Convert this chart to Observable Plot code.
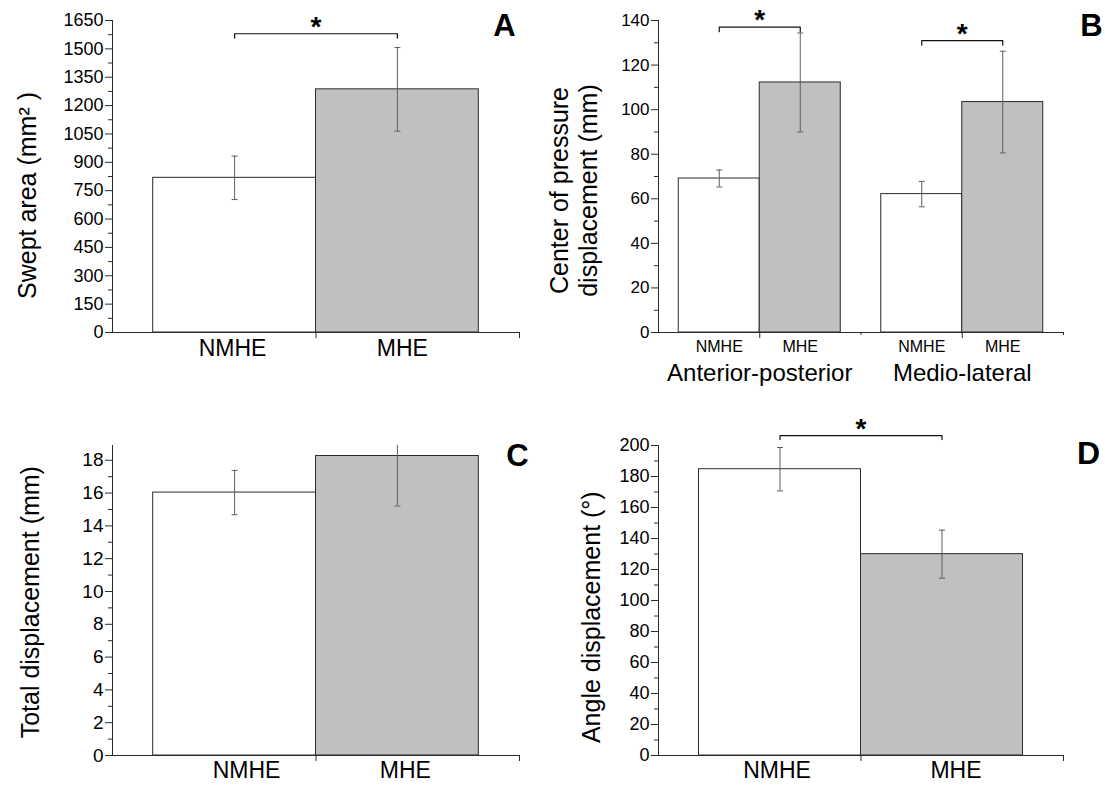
<!DOCTYPE html>
<html>
<head>
<meta charset="utf-8">
<script src="https://cdn.jsdelivr.net/npm/d3@7"></script>
<script src="https://cdn.jsdelivr.net/npm/@observablehq/plot@0.6"></script>
<style>
  body { margin: 0; background: #fff; }
  #fig { position: relative; width: 1105px; height: 785px; background: #fff; overflow: hidden; }
  #fig > svg { position: absolute; overflow: visible; }
</style>
</head>
<body>
<div id="fig"></div>
<script>
// ---------------- data ----------------
const groupNames = ["NMHE", "MHE"];
const sweptArea = [818, 1286];
const sweptAreaSD = [115, 221];

const copDirections = ["Anterior-posterior", "Medio-lateral"];
const copNMHE = [69.1, 62.1];
const copNMHESD = [3.8, 5.7];
const copMHE = [112.2, 103.4];
const copMHESD = [22.2, 22.8];

const totalDisp = [16.03, 18.26];
const totalDispSD = [1.35, 3.05];

const angleDisp = [184.7, 129.9];
const angleDispSD = [14.0, 15.5];

const ticksA = [0, 150, 300, 450, 600, 750, 900, 1050, 1200, 1350, 1500, 1650];
const ticksB = [0, 20, 40, 60, 80, 100, 120, 140];
const ticksC = [0, 2, 4, 6, 8, 10, 12, 14, 16, 18];
const ticksD = [0, 20, 40, 60, 80, 100, 120, 140, 160, 180, 200];

// significance brackets (y in data units)
const sigA = [{from: 0, to: 1, y: 1580}];
const sigB = [{group: 0, y: 137}, {group: 1, y: 131}];
const sigD = [{from: 0, to: 1, y: 206.4}];

// ---------------- style ----------------
const FONT = '"Liberation Sans", Arial, Helvetica, sans-serif';
const AXIS = "#2b2b2b";
const ERR = "#5e5e5e";
const FILLS = ["#ffffff", "#c0c0c0"];
const capSymbol = {
  draw(ctx, size) {
    const r = Math.sqrt(size / Math.PI);
    ctx.moveTo(-r, 0);
    ctx.lineTo(r, 0);
  }
};

function barMarks(bars) {
  return [
    Plot.rectY(bars, {x1: "x1", x2: "x2", y1: 0, y2: "v", fill: "fill", stroke: AXIS, strokeWidth: 1}),
    Plot.ruleX(bars, {x: "xc", y1: d => d.v - d.e, y2: d => d.v + d.e, stroke: ERR, strokeWidth: 1, clip: true}),
    Plot.dot(bars, {x: "xc", y: d => d.v + d.e, symbol: capSymbol, r: 3, fill: "none", stroke: ERR, strokeWidth: 1, clip: true}),
    Plot.dot(bars, {x: "xc", y: d => d.v - d.e, symbol: capSymbol, r: 3, fill: "none", stroke: ERR, strokeWidth: 1, clip: true})
  ];
}

function axisMarks(p) {
  const minor = d3.range(0, p.yDomain[1] + 1e-9, p.minorStep).filter(v => !p.yTicks.includes(v));
  return [
    Plot.ruleX([p.xDomain[0]], {stroke: AXIS, strokeWidth: 1}),
    Plot.ruleY([0], {stroke: AXIS, strokeWidth: 1}),
    Plot.axisY(minor, {tickSize: 4, tickFormat: () => "", stroke: AXIS, label: null}),
    Plot.axisY(p.yTicks, {tickSize: 7, tickPadding: 2, tickFormat: d => String(d), fontSize: p.yFont,
      stroke: AXIS, fill: "#000", fontFamily: FONT, label: null})
  ];
}

function bracketMarks(p, sig, legPx, starSize) {
  const plotH = p.height - p.marginTop - p.marginBottom;
  const leg = legPx * (p.yDomain[1] - p.yDomain[0]) / plotH;
  const pts = sig.flatMap((s, k) => [
    {k, x: s.from, y: s.y - leg}, {k, x: s.from, y: s.y},
    {k, x: s.to, y: s.y}, {k, x: s.to, y: s.y - leg}
  ]);
  return [
    Plot.line(pts, {x: "x", y: "y", z: "k", stroke: "#111", strokeWidth: 1.2}),
    Plot.text(sig, {x: s => (s.from + s.to) / 2, y: "y", text: () => "*", fontSize: starSize,
      fontWeight: "bold", lineAnchor: "bottom", dy: 2, fill: "#000", fontFamily: FONT})
  ];
}

// baselineX and centerY are relative to the panel's own SVG
function yLabel(text, p, baselineX, centerY) {
  const frameCenter = (p.marginTop + p.height - p.marginBottom) / 2;
  return Plot.text([text], {frameAnchor: "left", rotate: -90, lineAnchor: "bottom", textAnchor: "middle",
    lineHeight: 1.16, fontSize: 25, fill: "#000", fontFamily: FONT,
    dx: baselineX - p.marginLeft, dy: centerY - frameCenter});
}

function panelLetter(letter, p, cx, baseline, size) {
  return Plot.text([letter], {frameAnchor: "top-left", textAnchor: "middle", lineAnchor: "bottom",
    fontSize: size, fontWeight: "bold", fill: "#000", fontFamily: FONT,
    dx: cx - p.marginLeft, dy: baseline - p.marginTop});
}

function render(p, marks) {
  const svg = Plot.plot({
    width: p.width, height: p.height,
    marginLeft: p.marginLeft, marginRight: p.marginRight,
    marginTop: p.marginTop, marginBottom: p.marginBottom,
    x: {type: "linear", domain: p.xDomain, axis: null, label: null},
    y: {type: "linear", domain: p.yDomain, axis: null, label: null},
    color: {type: "identity"},
    style: {fontFamily: FONT, color: "#000", background: "transparent", overflow: "visible"},
    marks
  });
  svg.style.left = p.left + "px";
  svg.style.top = p.top + "px";
  document.getElementById("fig").appendChild(svg);
}

// two-bar panel builder (A, C, D)
function twoBarPanel(p, values, sds) {
  const bars = values.map((v, i) => ({x1: i - 0.5, x2: i + 0.5, xc: i, v, e: sds[i], fill: FILLS[i]}));
  return [
    ...barMarks(bars),
    ...axisMarks(p),
    // category labels (one text mark per category so each can be nudged like the original)
    ...bars.map((b, i) => Plot.text([b], {x: "xc", y: 0, text: () => groupNames[i], lineAnchor: "top",
      dy: p.xPad, dx: p.labelDx[i], fontSize: 23, fill: "#000", fontFamily: FONT})),
    Plot.axisX([0.5, p.xDomain[1]], {tickSize: 6, tickFormat: () => "", stroke: AXIS, label: null})
  ];
}

// ---------------- Panel A ----------------
const pA = {left: 0, top: 0, width: 552, height: 392, marginLeft: 112, marginRight: 33, marginTop: 20, marginBottom: 60,
  xDomain: [-0.75, 1.75], yDomain: [0, 1650], yTicks: ticksA, minorStep: 75, yFont: 18, xPad: 7, labelDx: [-2, 5]};
render(pA, [
  ...twoBarPanel(pA, sweptArea, sweptAreaSD),
  ...bracketMarks(pA, sigA, 4.5, 28),
  yLabel("Swept area (mm² )", pA, 35, 195),
  panelLetter("A", pA, 504, 35, 31)
]);

// ---------------- Panel B ----------------
const pB = {left: 552, top: 0, width: 553, height: 400, marginLeft: 106, marginRight: 42, marginTop: 20, marginBottom: 68,
  xDomain: [-0.5, 1.5], yDomain: [0, 140], yTicks: ticksB, minorStep: 10, yFont: 17};
const barsB = [];
copDirections.forEach((name, g) => {
  barsB.push({g, s: 0, x1: g - 0.4, x2: g, xc: g - 0.2, v: copNMHE[g], e: copNMHESD[g], fill: FILLS[0]});
  barsB.push({g, s: 1, x1: g, x2: g + 0.4, xc: g + 0.2, v: copMHE[g], e: copMHESD[g], fill: FILLS[1]});
});
const sigBpos = sigB.map(s => ({from: s.group - 0.2, to: s.group + 0.2, y: s.y}));
render(pB, [
  ...barMarks(barsB),
  ...axisMarks(pB),
  Plot.text(barsB, {x: "xc", y: 0, text: d => groupNames[d.s], lineAnchor: "top", dy: 8, fontSize: 16,
    fill: "#000", fontFamily: FONT}),
  Plot.axisX([0, 1], {tickSize: 6, tickPadding: 25, tickFormat: i => copDirections[i], fontSize: 24,
    stroke: AXIS, fill: "#000", fontFamily: FONT, label: null}),
  Plot.axisX([0.5, pB.xDomain[1]], {tickSize: 3, tickFormat: () => "", stroke: AXIS, label: null}),
  ...bracketMarks(pB, sigBpos, 4.5, 28),
  yLabel("Center of pressure\ndisplacement (mm)", pB, 596 - 552, 190),
  panelLetter("B", pB, 1091 - 552, 35, 31)
]);

// ---------------- Panel C ----------------
const pC = {left: 0, top: 400, width: 552, height: 385, marginLeft: 112, marginRight: 33, marginTop: 45, marginBottom: 30,
  xDomain: [-0.75, 1.75], yDomain: [0, 18.9], yTicks: ticksC, minorStep: 1, yFont: 19, xPad: 6, labelDx: [12, 8]};
render(pC, [
  ...twoBarPanel(pC, totalDisp, totalDispSD),
  yLabel("Total displacement (mm)", pC, 38.5, 201.7),
  panelLetter("C", pC, 517, 65, 31)
]);

// ---------------- Panel D ----------------
const pD = {left: 552, top: 400, width: 553, height: 385, marginLeft: 106, marginRight: 42, marginTop: 45, marginBottom: 30,
  xDomain: [-0.75, 1.75], yDomain: [0, 200], yTicks: ticksD, minorStep: 10, yFont: 18, xPad: 6, labelDx: [-3, 14]};
render(pD, [
  ...twoBarPanel(pD, angleDisp, angleDispSD),
  ...bracketMarks(pD, sigD, 4, 28),
  yLabel("Angle displacement (°)", pD, 599.5 - 552, 216.7),
  panelLetter("D", pD, 1088 - 552, 63, 32)
]);
</script>
</body>
</html>
